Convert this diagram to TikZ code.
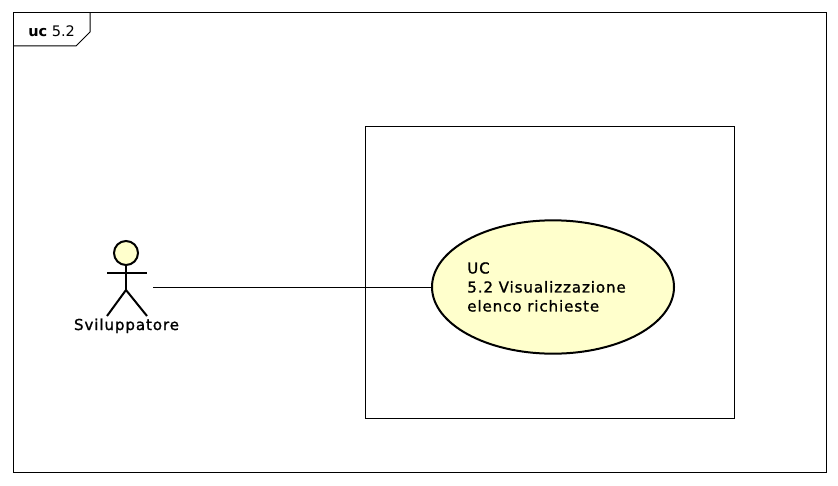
\documentclass[tikz,border=0pt]{standalone}
\usepackage{fontspec}
\setmainfont{DejaVu Sans}
\newfontfamily\labelfont[FakeBold=1.2,LetterSpace=6]{DejaVu Sans}
\usetikzlibrary{shapes.geometric}
\definecolor{ucfill}{RGB}{255,255,204}
\tikzset{
  usecase/.style={draw, ellipse, fill=ucfill, line width=1.5pt, minimum width=181.5pt, minimum height=100pt, inner sep=0pt},
  actorline/.style={line width=1.5pt},
  thinline/.style={line width=0.75pt},
  label/.style={font=\fontsize{11.3}{14.25}\labelfont, inner sep=0pt}
}
\begin{document}
\begin{tikzpicture}[x=0.75pt, y=-0.75pt]
  \useasboundingbox (0,0) rectangle (838,485);
  \fill[white] (0,0) rectangle (838,485);
  % cornice
  \node[draw, thinline, minimum width=609.75pt, minimum height=344.25pt, inner sep=0pt] (frame) at (419.5,242.5) {};
  \draw[thinline] (13,46) -- (76,46) -- (90,32) -- (90,13);
  \node[font=\fontsize{10.9}{14}\selectfont, inner sep=0pt, anchor=base west] (frametitle) at (28,37) {\textbf{uc} 5.2};
  % sistema
  \node[draw, thinline, minimum width=276.75pt, minimum height=219pt, inner sep=0pt] (system) at (549.5,272) {};
  \node[usecase] (uc) at (553,287) {};
  \node[label, align=left, anchor=west] (uctext) at (467,287) {UC\\5.2 Visualizzazione\\elenco richieste};
  % attore
  \node[draw, circle, fill=ucfill, actorline, minimum size=18pt, inner sep=0pt] (head) at (126,253) {};
  \coordinate (hip) at (126,290);
  \coordinate (actorend) at (153,287);
  \draw[actorline] (head.south) -- (hip);
  \draw[actorline] (107,273) -- (147,273);
  \draw[actorline] (107,316) -- (hip) -- (147,316);
  \node[label, anchor=base] (actor) at (126.5,330) {Sviluppatore};
  % associazione
  \draw[thinline] (actorend) -- (uc.west);
\end{tikzpicture}
\end{document}
